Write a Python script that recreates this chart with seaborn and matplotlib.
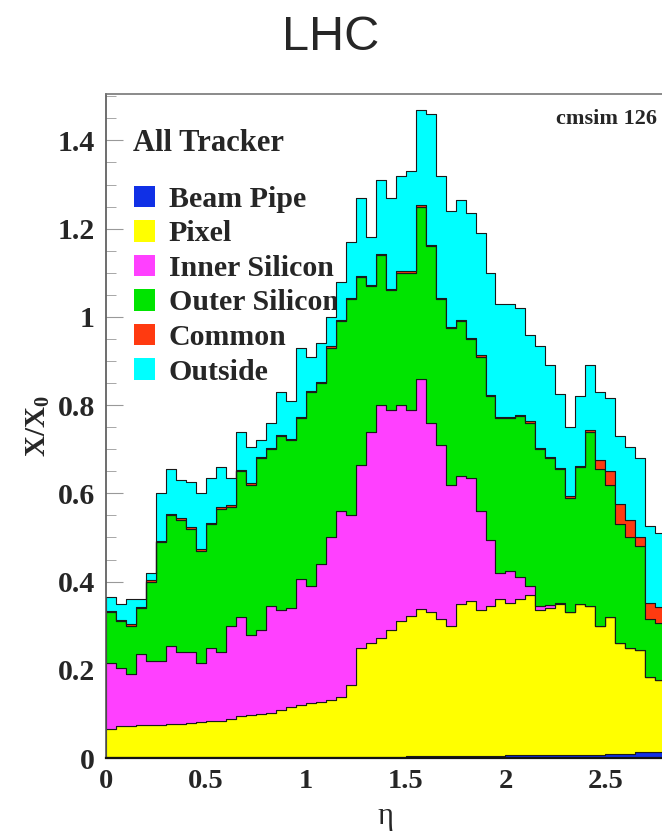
import numpy as np
import pandas as pd
import matplotlib
matplotlib.use("Agg")
import matplotlib.pyplot as plt
from matplotlib.patches import Patch
from matplotlib.ticker import MultipleLocator
import seaborn as sns

# Material budget of the tracker in radiation lengths, per eta bin of width 0.05
eta_min, eta_max, bin_width = 0.0, 2.8, 0.05

components = ["Beam Pipe", "Pixel", "Inner Silicon", "Outer Silicon", "Common", "Outside"]
colors = ["#1030e6", "#ffff00", "#ff40ff", "#00e400", "#ff3a10", "#00ffff"]

beam_pipe = [0.002] * 20 + [0.003] * 10 + [0.004] * 10 + [0.006] * 5 + [0.008] * 5 + [0.010] * 3 + [0.014] * 3

pixel = [0.063, 0.070, 0.071, 0.072, 0.073, 0.074, 0.075, 0.076, 0.077, 0.079,
         0.081, 0.083, 0.086, 0.093, 0.095, 0.097, 0.100, 0.108, 0.114, 0.118,
         0.121, 0.124, 0.129, 0.135, 0.162, 0.247, 0.257, 0.269, 0.287, 0.307,
         0.318, 0.333, 0.326, 0.311, 0.296, 0.346, 0.351, 0.331, 0.341, 0.356,
         0.346, 0.354, 0.364, 0.329, 0.334, 0.342, 0.322, 0.342, 0.337, 0.292,
         0.310, 0.250, 0.240, 0.231, 0.169, 0.164]

inner_silicon = [0.150, 0.133, 0.117, 0.161, 0.145, 0.144, 0.178, 0.162, 0.161, 0.134,
                 0.167, 0.155, 0.212, 0.225, 0.183, 0.191, 0.243, 0.225, 0.224, 0.285,
                 0.266, 0.313, 0.368, 0.422, 0.385, 0.415, 0.480, 0.528, 0.500, 0.490,
                 0.468, 0.523, 0.430, 0.395, 0.320, 0.290, 0.280, 0.225, 0.150, 0.060,
                 0.073, 0.050, 0.020, 0.010, 0.008, 0.002, 0.0, 0.0, 0.0, 0.0,
                 0.0, 0.0, 0.0, 0.0, 0.0, 0.0]

outer_silicon = [0.115, 0.105, 0.110, 0.105, 0.180, 0.270, 0.295, 0.300, 0.280, 0.255,
                 0.280, 0.325, 0.270, 0.330, 0.340, 0.390, 0.355, 0.395, 0.380, 0.365,
                 0.440, 0.410, 0.430, 0.430, 0.490, 0.425, 0.330, 0.340, 0.270, 0.300,
                 0.310, 0.390, 0.400, 0.330, 0.355, 0.350, 0.315, 0.350, 0.325, 0.350,
                 0.345, 0.365, 0.370, 0.355, 0.332, 0.303, 0.260, 0.310, 0.395, 0.355,
                 0.300, 0.270, 0.250, 0.235, 0.132, 0.127]

common = [0.003] * 49 + [0.020, 0.030, 0.045, 0.040, 0.020, 0.037, 0.038]

outside = [0.032, 0.037, 0.057, 0.017, 0.017, 0.107, 0.102, 0.087, 0.102, 0.127,
           0.102, 0.092, 0.062, 0.087, 0.082, 0.037, 0.057, 0.097, 0.087, 0.157,
           0.077, 0.087, 0.067, 0.087, 0.127, 0.177, 0.107, 0.167, 0.207, 0.217,
           0.227, 0.217, 0.297, 0.277, 0.262, 0.272, 0.282, 0.277, 0.277, 0.257,
           0.257, 0.242, 0.197, 0.232, 0.207, 0.167, 0.157, 0.157, 0.147, 0.155,
           0.165, 0.155, 0.165, 0.180, 0.173, 0.167]

n_bins = int(round((eta_max - eta_min) / bin_width))
edges = [eta_min + i * bin_width for i in range(n_bins + 1)]
centers = [0.5 * (a + b) for a, b in zip(edges[:-1], edges[1:])]

series = [beam_pipe, pixel, inner_silicon, outer_silicon, common, outside]
df = pd.concat(
    [pd.DataFrame({"eta": centers, "x0": vals, "component": name})
     for name, vals in zip(components, series)],
    ignore_index=True,
)

sns.set_theme(style="white")
plt.rcParams["mathtext.fontset"] = "custom"
plt.rcParams["mathtext.bf"] = "Liberation Serif:bold"
plt.rcParams["mathtext.rm"] = "Liberation Serif:bold"
plt.rcParams["mathtext.it"] = "Liberation Serif:bold"

serif_bold = dict(family="Liberation Serif", weight="bold")

fig = plt.figure(figsize=(6.62, 8.31), dpi=100)
ax = fig.add_axes([0.160, 0.0878, 0.845, 0.799])

# Stacked step histogram: the first hue level ends up on top of the stack
palette = dict(zip(components, colors))
sns.histplot(
    data=df, x="eta", weights="x0", hue="component",
    hue_order=components[::-1], palette=palette,
    bins=edges, multiple="stack", element="step", fill=True,
    alpha=1.0, linewidth=0.8, edgecolor="#1a1a1a", legend=False, ax=ax,
)

ax.set_xlim(eta_min, eta_max)
ax.set_ylim(0, 1.505)
ax.xaxis.set_minor_locator(MultipleLocator(0.1))
ax.yaxis.set_minor_locator(MultipleLocator(0.05))
ax.set_xticks([0, 0.5, 1, 1.5, 2, 2.5])
ax.set_xticklabels(["0", "0.5", "1", "1.5", "2", "2.5"])
ax.set_yticks([0, 0.2, 0.4, 0.6, 0.8, 1.0, 1.2, 1.4])
ax.set_yticklabels(["0", "0.2", "0.4", "0.6", "0.8", "1", "1.2", "1.4"])
ax.tick_params(axis="both", which="both", direction="in", color="#999999",
               left=True, bottom=True)
ax.tick_params(axis="x", labelsize=20.5)
ax.tick_params(axis="y", labelsize=21.5)
ax.tick_params(axis="both", which="major", length=12, width=0.8, pad=8)
ax.tick_params(axis="both", which="minor", length=7, width=0.6)
for lab in ax.get_xticklabels() + ax.get_yticklabels():
    lab.set_fontfamily("Liberation Serif")
    lab.set_fontweight("bold")

ax.spines["left"].set_color("#555555")
ax.spines["top"].set_color("#777777")
ax.spines["bottom"].set_color("#111111")
ax.spines["bottom"].set_linewidth(1.6)
ax.spines["left"].set_linewidth(1.2)
ax.spines["top"].set_linewidth(1.2)
ax.spines["right"].set_visible(False)

ax.set_xlabel("η", fontsize=22, family="Liberation Serif", labelpad=6)
ax.set_ylabel(r"$\mathbf{X/X_0}$", fontsize=21, labelpad=4)

ax.text(0.048, 0.915, "All Tracker", transform=ax.transAxes, fontsize=22,
        va="baseline", ha="left", zorder=0.5, **serif_bold)
ax.text(0.985, 0.955, "cmsim 126", transform=ax.transAxes, fontsize=16,
        va="baseline", ha="right", **serif_bold)

handles = [Patch(facecolor=c, edgecolor="none") for c in colors]
leg = ax.legend(handles, components, loc="upper left", bbox_to_anchor=(0.05, 0.862),
                frameon=False, borderpad=0, borderaxespad=0, handlelength=0.72,
                handleheight=0.72, handletextpad=0.45, labelspacing=0.25,
                prop=dict(family="Liberation Serif", weight="bold", size=21.5))
leg.set_zorder(0.5)

fig.text(0.5, 1 - 38 / 831, "LHC", ha="center", va="center", fontsize=35,
         family="Liberation Sans")

fig.savefig("out.png", dpi=100, facecolor="white")
